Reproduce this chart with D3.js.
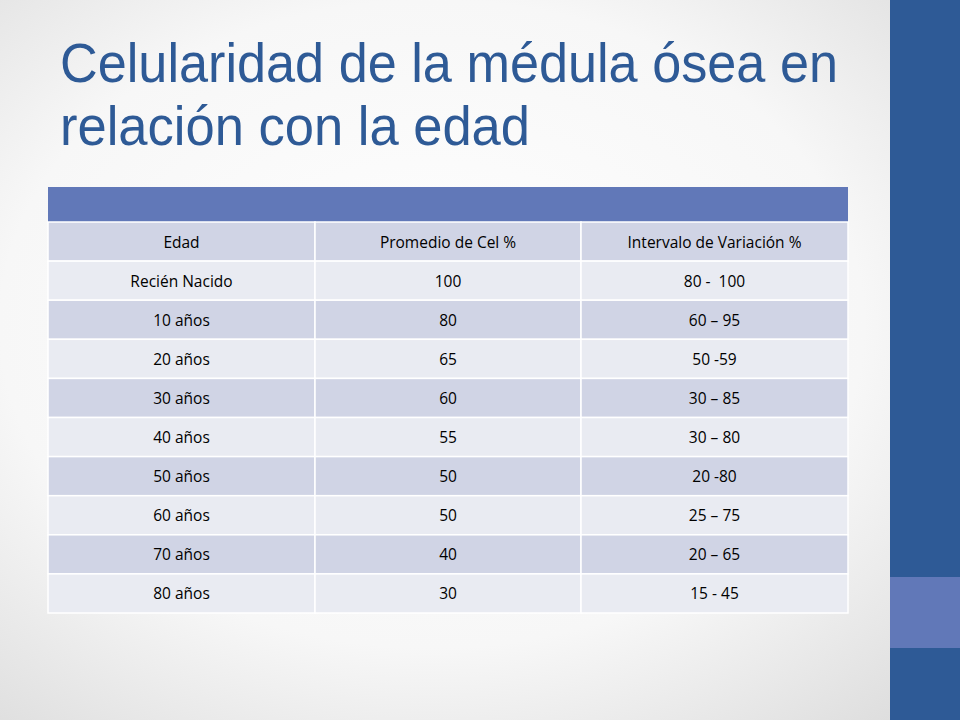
<!DOCTYPE html><html><head><meta charset="utf-8"><script src="https://cdn.jsdelivr.net/npm/d3@7"></script>
<style>body{margin:0}</style></head><body><svg id="c" width="960" height="720"></svg>
<script>
const titleLines=["Celularidad de la médula ósea en","relación con la edad"];
const titleWidths=[778,470];
const columns=["Edad","Promedio de Cel %","Intervalo de Variación %"];
const ages=["Recién Nacido","10 años","20 años","30 años","40 años","50 años","60 años","70 años","80 años"];
const means=["100","80","65","60","55","50","50","40","30"];
const ranges=["80 -  100","60 – 95","50 -59","30 – 85","30 – 80","20 -80","25 – 75","20 – 65","15 - 45"];
const svg=d3.select("#c");
const defs=svg.append("defs");
const g=defs.append("radialGradient").attr("id","bg").attr("cx","45%").attr("cy","45%").attr("r","75%");
g.append("stop").attr("offset","0").attr("stop-color","#ffffff");
g.append("stop").attr("offset","0.6").attr("stop-color","#f7f7f7");
g.append("stop").attr("offset","1").attr("stop-color","#dcdcdc");
svg.append("rect").attr("width",960).attr("height",720).attr("fill","url(#bg)");
svg.append("rect").attr("x",890).attr("y",0).attr("width",70).attr("height",720).attr("fill","#2E5A96");
svg.append("rect").attr("x",890).attr("y",577).attr("width",70).attr("height",71).attr("fill","#6178B8");
svg.selectAll("text.t").data(titleLines).join("text").attr("x",60).attr("y",(d,i)=>82+i*63)
 .attr("font-family","Liberation Sans, Arial, sans-serif").attr("font-size",55).attr("fill","#2E5A96")
 .attr("textLength",(d,i)=>titleWidths[i]).attr("lengthAdjust","spacingAndGlyphs").text(d=>d);
const rows=[columns].concat(ages.map((a,i)=>[a,means[i],ranges[i]]));
const y=d3.scaleBand().domain(d3.range(rows.length)).range([222,613]);
const xs=[48,315,581,848];
svg.append("rect").attr("x",48).attr("y",187).attr("width",800).attr("height",35).attr("fill","#6178B8");
rows.forEach((r,i)=>{
 r.forEach((c,j)=>{
  svg.append("rect").attr("x",xs[j]).attr("y",y(i)).attr("width",xs[j+1]-xs[j]).attr("height",y.bandwidth())
   .attr("fill",i%2===0?"#D0D4E5":"#E9EBF2").attr("stroke","#ffffff").attr("stroke-width",1.5);
  svg.append("text").attr("x",(xs[j]+xs[j+1])/2).attr("y",y(i)+y.bandwidth()/2+6).attr("text-anchor","middle")
   .style("white-space","pre")
   .attr("font-family","Open Sans, Noto Sans, sans-serif").attr("font-size",15.5).attr("fill","#000").text(c);
 });
});
</script></body></html>
